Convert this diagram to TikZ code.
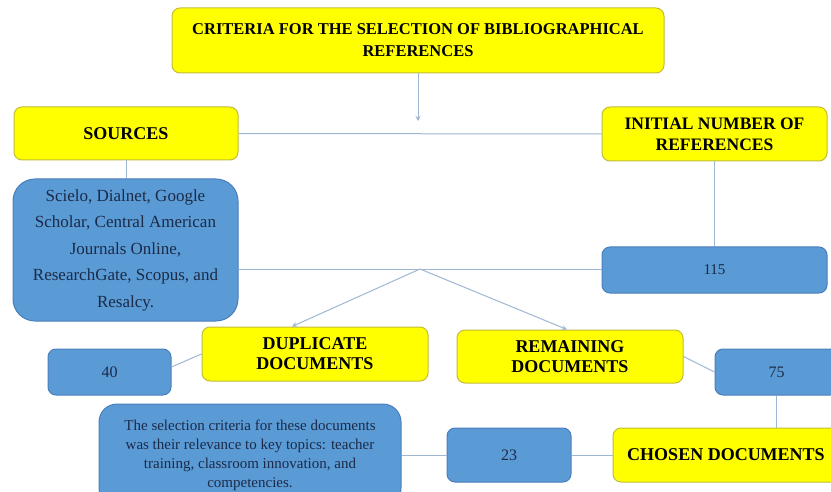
\documentclass[tikz,border=0pt]{standalone}
\usepackage{fontspec}
\setmainfont{Liberation Serif}
\usetikzlibrary{arrows.meta}
\definecolor{ybox}{HTML}{FFFF00}
\definecolor{yborder}{HTML}{C2BC3A}
\definecolor{bbox}{HTML}{5B9BD5}
\definecolor{bborder}{HTML}{4A7EBB}
\definecolor{conn}{HTML}{9FB6D3}
\definecolor{navy}{HTML}{1B2A48}
\tikzset{
  ynode/.style={draw=yborder, fill=ybox, line width=1pt, rounded corners=8pt, inner sep=0pt, align=center, text=black, font=\bfseries\fontsize{18}{20}\selectfont},
  bnode/.style={draw=bborder, fill=bbox, line width=1pt, rounded corners=8pt, inner sep=0pt, align=center, text=navy, font=\fontsize{16}{19}\selectfont},
  wire/.style={draw=conn, line width=1pt},
  arr/.style={wire, -{Stealth[length=5pt,width=5pt]}}
}
\begin{document}
\begin{tikzpicture}[x=1pt,y=1pt]
\useasboundingbox (0,0) rectangle (831,-492);
\node[ynode, minimum width=492, minimum height=65, font=\bfseries\fontsize{16.5}{22}\selectfont] (title) at (418,-40.5) {CRITERIA FOR THE SELECTION OF BIBLIOGRAPHICAL\\REFERENCES};
\node[ynode, minimum width=224, minimum height=53] (sources) at (126,-133.5) {SOURCES};
\node[ynode, minimum width=225, minimum height=54, font=\bfseries\fontsize{17.5}{21}\selectfont] (initial) at (714.5,-134) {INITIAL NUMBER OF\\REFERENCES};
\node[bnode, minimum width=225, minimum height=142, rounded corners=22pt, font=\fontsize{17}{26.5}\selectfont] (srcbox) at (125.5,-250) {Scielo, Dialnet, Google\\Scholar, Central American\\Journals Online,\\ResearchGate, Scopus, and\\Resalcy.};
\node[bnode, minimum width=225, minimum height=46, font=\fontsize{15}{18}\selectfont] (n115) at (714.5,-270) {115};
\node[ynode, minimum width=226, minimum height=54] (dup) at (315,-354) {DUPLICATE\\DOCUMENTS};
\node[bnode, minimum width=123, minimum height=46] (n40) at (109.5,-372) {40};
\node[ynode, minimum width=226, minimum height=53] (rem) at (570,-356.5) {REMAINING\\DOCUMENTS};
\node[bnode, minimum width=123, minimum height=46] (n75) at (776.5,-372) {75};
\node[bnode, minimum width=302, minimum height=102, rounded corners=18pt, font=\fontsize{15}{19}\selectfont] (crit) at (250,-455) {The selection criteria for these documents\\was their relevance to key topics: teacher\\training, classroom innovation, and\\competencies.};
\node[bnode, minimum width=124, minimum height=54] (n23) at (509,-455) {23};
\node[ynode, minimum width=226, minimum height=54] (chosen) at (726,-455) {CHOSEN DOCUMENTS};
\coordinate (tip) at (418,-121);
\coordinate (junc) at (420,-269);
\draw[arr] (title.south) -- (tip);
\draw[wire] (sources.east) -- (initial.west);
\draw[wire] (sources.south) -- (srcbox.north -| sources.south);
\draw[wire] (initial.south) -- (n115.north);
\draw[wire] (srcbox.east |- n115.west) -- (n115.west);
\draw[arr] (junc) -- ([xshift=-23pt]dup.north);
\draw[arr] (junc) -- ([xshift=-3pt]rem.north);
\draw[wire] ([yshift=5pt]n40.east) -- (dup.west);
\draw[wire] (rem.east) -- (n75.west);
\draw[wire] (n75.south) -- (n75.south |- chosen.north);
\draw[wire] (crit.east) -- (n23.west);
\draw[wire] (n23.east) -- (chosen.west);
\end{tikzpicture}
\end{document}
